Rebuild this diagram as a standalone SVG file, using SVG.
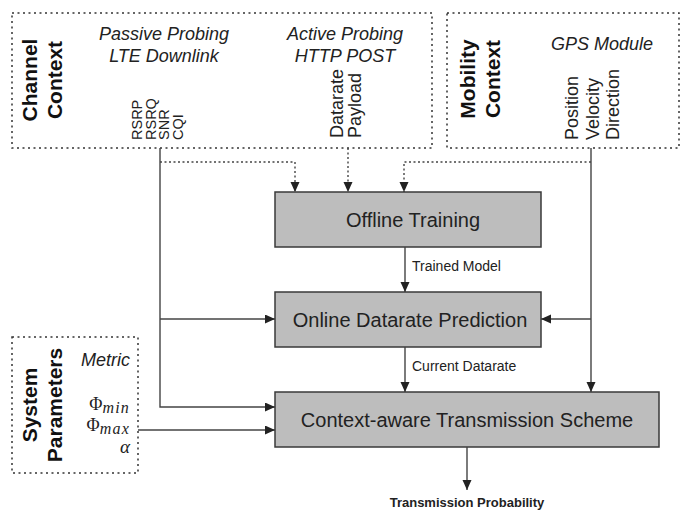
<svg xmlns="http://www.w3.org/2000/svg" width="699" height="510" viewBox="0 0 699 510">
<defs>
<style>
.frame{fill:none;stroke:#333;stroke-width:1.5;stroke-dasharray:2,3.5}
.box{fill:#bdbdbd;stroke:#3a3a3a;stroke-width:1.5}
.ln{fill:none;stroke:#444;stroke-width:1.4}
.dot{fill:none;stroke:#444;stroke-width:1.4;stroke-dasharray:2,2.5}
.t{font-family:"Liberation Sans",Arial,sans-serif;fill:#222}
.ttl{font-family:"Liberation Sans",Arial,sans-serif;fill:#111;font-weight:bold;font-size:21px;text-anchor:middle}
.it{font-family:"Liberation Sans",Arial,sans-serif;fill:#222;font-style:italic;font-size:18px}
.m{font-family:"Liberation Serif","Times New Roman",serif;fill:#222}
</style>
<marker id="ah" markerUnits="userSpaceOnUse" markerWidth="10" markerHeight="10" refX="10" refY="4.5" orient="auto">
<path d="M0,0 L10,4.5 L0,9 z" fill="#222"/>
</marker>
</defs>
<rect width="699" height="510" fill="#fff"/>

<g id="channel-context">
<rect class="frame" x="12" y="13" width="420" height="135"/>
<text class="ttl" transform="translate(37,80) rotate(-90)"><tspan x="0" y="0">Channel</tspan><tspan x="0" y="25">Context</tspan></text>
<text class="it" x="164" y="40" text-anchor="middle">Passive Probing</text>
<text class="it" x="164" y="62" text-anchor="middle">LTE Downlink</text>
<text class="it" x="345" y="40" text-anchor="middle">Active Probing</text>
<text class="it" x="345" y="62" text-anchor="middle">HTTP POST</text>
<text class="t" font-size="14.5" transform="translate(142,140) rotate(-90)"><tspan x="0" y="0">RSRP</tspan><tspan x="0" y="13.5">RSRQ</tspan><tspan x="0" y="27">SNR</tspan><tspan x="0" y="40.5">CQI</tspan></text>
<text class="t" font-size="18" transform="translate(343,138) rotate(-90)"><tspan x="0" y="0">Datarate</tspan><tspan x="0" y="18">Payload</tspan></text>
</g>

<g id="mobility-context">
<rect class="frame" x="447" y="13" width="232" height="135"/>
<text class="ttl" transform="translate(475,79) rotate(-90)"><tspan x="0" y="0">Mobility</tspan><tspan x="0" y="25">Context</tspan></text>
<text class="it" x="602" y="50" text-anchor="middle">GPS Module</text>
<text class="t" font-size="18" transform="translate(578,140) rotate(-90)"><tspan x="0" y="0">Position</tspan><tspan x="0" y="20.5">Velocity</tspan><tspan x="0" y="41">Direction</tspan></text>
</g>

<g id="system-parameters">
<rect class="frame" x="12" y="337" width="126" height="136"/>
<text class="ttl" transform="translate(37,405) rotate(-90)"><tspan x="0" y="0">System</tspan><tspan x="0" y="25">Parameters</tspan></text>
<text class="it" x="130" y="366" text-anchor="end">Metric</text>
<text class="m" x="130" y="410" text-anchor="end"><tspan font-size="18">Φ</tspan><tspan font-size="16" font-style="italic" letter-spacing="1.2" dy="3">min</tspan></text>
<text class="m" x="130" y="431" text-anchor="end"><tspan font-size="18">Φ</tspan><tspan font-size="16" font-style="italic" letter-spacing="1.2" dy="3">max</tspan></text>
<text class="m" x="130" y="453" text-anchor="end" font-size="19" font-style="italic">α</text>
</g>

<g id="offline-training">
<rect class="box" x="275" y="192" width="266" height="55"/>
<text class="t" x="413" y="227" font-size="20" text-anchor="middle">Offline Training</text>
</g>

<g id="online-prediction">
<rect class="box" x="275" y="292" width="266" height="55"/>
<text class="t" x="410" y="327" font-size="20" text-anchor="middle">Online Datarate Prediction</text>
</g>

<g id="transmission-scheme">
<rect class="box" x="275" y="392" width="384" height="55"/>
<text class="t" x="467" y="427" font-size="20" text-anchor="middle">Context-aware Transmission Scheme</text>
</g>

<g id="connectors">
<polyline class="ln" points="160,148 160,407 275,407" marker-end="url(#ah)"/>
<line class="ln" x1="160" y1="319" x2="275" y2="319" marker-end="url(#ah)"/>
<polyline class="dot" points="160,162 295,162 295,192" marker-end="url(#ah)"/>
<line class="dot" x1="348" y1="148" x2="348" y2="192" marker-end="url(#ah)"/>
<polyline class="dot" points="591,162 404,162 404,192" marker-end="url(#ah)"/>
<line class="ln" x1="591" y1="148" x2="591" y2="392" marker-end="url(#ah)"/>
<line class="ln" x1="591" y1="319" x2="541" y2="319" marker-end="url(#ah)"/>
<line class="ln" x1="405" y1="247" x2="405" y2="292" marker-end="url(#ah)"/>
<text class="t" x="412" y="271" font-size="14">Trained Model</text>
<line class="ln" x1="405" y1="347" x2="405" y2="392" marker-end="url(#ah)"/>
<text class="t" x="412" y="371" font-size="14">Current Datarate</text>
<line class="ln" x1="138" y1="430" x2="275" y2="430" marker-end="url(#ah)"/>
<line class="ln" x1="467" y1="447" x2="467" y2="490" marker-end="url(#ah)"/>
<text class="t" x="467" y="507" font-size="13" font-weight="bold" text-anchor="middle">Transmission Probability</text>
</g>
</svg>
